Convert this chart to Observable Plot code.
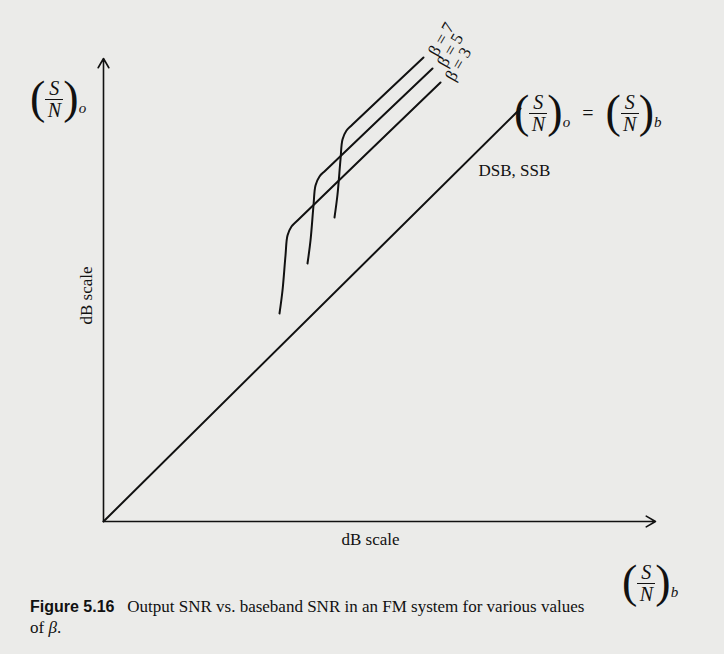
<!DOCTYPE html>
<html><head><meta charset="utf-8">
<script src="https://cdn.jsdelivr.net/npm/d3@7"></script>
<script src="https://cdn.jsdelivr.net/npm/@observablehq/plot@0.6"></script>
<style>
body{margin:0;background:#ebebe9;font-family:"Liberation Serif","DejaVu Serif",serif;color:#111}
#wrap{position:relative;width:724px;height:654px}
.sn{position:absolute;display:flex;align-items:center;font-size:20px;font-style:italic}
.p{font-style:normal;font-size:46px;line-height:1;font-weight:200;margin-top:-4px}
.fr{display:inline-flex;flex-direction:column;align-items:center;line-height:1.05}
.fr span:first-child{border-bottom:1.4px solid #111;padding:0 4px}
.sub{font-size:15px;align-self:flex-end;margin-bottom:4px;margin-left:0}
#cap{position:absolute;left:30px;top:596px;font-size:17px;line-height:21px}
</style></head><body>
<div id="wrap"><div id="chart"></div><div id="cap"><b style="font-family:'Liberation Sans',sans-serif;font-size:16px">Figure 5.16</b>&nbsp;&nbsp; Output SNR vs. baseband SNR in an FM system for various values<br>of <i>β</i>.</div></div>
<script>
// curves in dB-ish units: x = input SNR, y = output SNR
const betas = [3, 5, 7]
const b3x = [176, 179, 182, 184, 188, 194, 337]
const b3y = [208, 231, 266, 286, 295, 301, 439]
const b5x = [204, 207, 210, 212, 216, 222, 329]
const b5y = [258, 281, 316, 336, 345, 351, 453]
const b7x = [231, 234, 237, 239, 243, 249, 320]
const b7y = [304, 327, 362, 382, 391, 397, 464]
const dsbX = [0, 417]
const dsbY = [0, 413]

const curves = [[b3x, b3y], [b5x, b5y], [b7x, b7y]].flatMap(([xs, ys], i) =>
  xs.map((x, j) => ({beta: betas[i], x, y: ys[j]})))
const ends = betas.map(b => curves.filter(d => d.beta === b).at(-1))

const chart = Plot.plot({
  width: 724, height: 580,
  marginLeft: 103, marginRight: 69, marginTop: 51, marginBottom: 59,
  x: {domain: [0, 552], axis: null},
  y: {domain: [0, 470], axis: null},
  style: {background: "transparent", fontFamily: "Liberation Serif, serif"},
  marks: [
    Plot.arrow([{x1: 0, y1: 0, x2: 552, y2: 0}, {x1: 0, y1: 0, x2: 0, y2: 463}],
      {x1: "x1", y1: "y1", x2: "x2", y2: "y2", stroke: "#111", strokeWidth: 1.6, headLength: 10}),
    Plot.line(dsbX.map((x, i) => ({x, y: dsbY[i]})), {x: "x", y: "y", stroke: "#111", strokeWidth: 2}),
    Plot.line(curves, {x: "x", y: "y", z: "beta", curve: "catmull-rom", stroke: "#111", strokeWidth: 2}),
    Plot.text(ends, {x: "x", y: "y", text: d => `β = ${d.beta}`, rotate: -60, textAnchor: "start",
      dx: 9, dy: -3, fontSize: 17, fill: "#111"}),
    Plot.text(["DSB, SSB"], {x: 375, y: 351, text: d => d, textAnchor: "start", fontSize: 17, fill: "#111"}),
    Plot.text(["dB scale"], {x: 267, y: -18, text: d => d, fontSize: 17, fill: "#111"}),
    Plot.text(["dB scale"], {x: -17, y: 226, text: d => d, rotate: -90, fontSize: 17, fill: "#111"})
  ]
})
document.getElementById("chart").append(chart)

const frac = (sub) => `<span class="p">(</span><span class="fr"><span>S</span><span>N</span></span><span class="p">)</span><span class="sub">${sub}</span>`
const wrap = document.getElementById("wrap")
function addSN(html, left, top) {
  const d = document.createElement("div")
  d.className = "sn"; d.style.left = left + "px"; d.style.top = top + "px"
  d.innerHTML = html; wrap.append(d)
}
addSN(frac("o"), 30, 78)
addSN(frac("b"), 622, 562)
addSN(frac("o") + `<span style="font-style:normal;margin:0 12px">=</span>` + frac("b"), 514, 92)
</script></body></html>
